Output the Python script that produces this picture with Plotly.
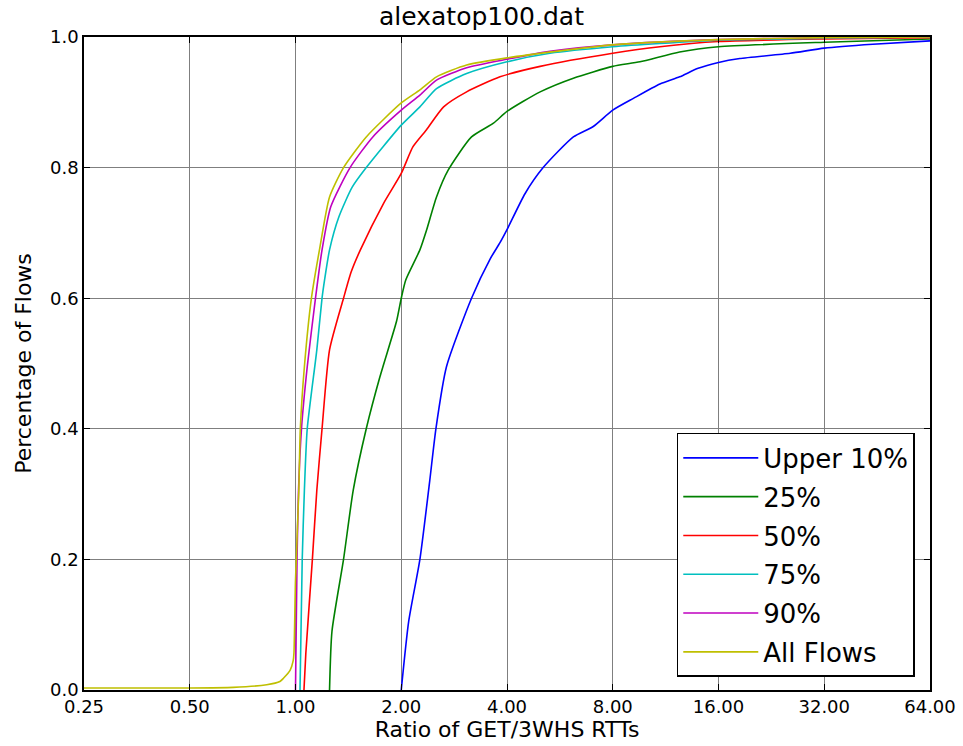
import plotly.graph_objects as go

x_ticks = [0.25, 0.5, 1, 2, 4, 8, 16, 32, 64]
x_tick_labels = ["0.25", "0.50", "1.00", "2.00", "4.00", "8.00", "16.00", "32.00", "64.00"]
y_ticks = [0.0, 0.2, 0.4, 0.6, 0.8, 1.0]

upper10_x = [2.0, 2.1, 2.26, 2.41, 2.51, 2.69, 3.17, 3.58, 3.82, 4.0, 4.5, 5.07, 6.18, 7.04, 8.0, 9.16, 10.9, 12.4, 14.0, 16.0, 18.4, 25.6, 32.0, 44.0, 64.0]
upper10_y = [0.0, 0.105, 0.2, 0.32, 0.4, 0.495, 0.6, 0.66, 0.685, 0.705, 0.76, 0.8, 0.847, 0.863, 0.888, 0.906, 0.928, 0.939, 0.952, 0.961, 0.967, 0.975, 0.983, 0.989, 0.994]

p25_x = [1.25, 1.27, 1.37, 1.46, 1.59, 1.74, 1.94, 2.0, 2.06, 2.26, 2.36, 2.52, 2.72, 3.17, 3.66, 4.0, 4.97, 6.18, 8.0, 9.56, 12.4, 16.0, 32.0, 64.0]
p25_y = [0.0, 0.09, 0.2, 0.306, 0.4, 0.48, 0.565, 0.6, 0.628, 0.674, 0.704, 0.755, 0.796, 0.847, 0.868, 0.886, 0.916, 0.937, 0.955, 0.962, 0.977, 0.985, 0.992, 0.997]

p50_x = [1.057, 1.07, 1.117, 1.15, 1.19, 1.25, 1.37, 1.44, 1.53, 1.78, 2.0, 2.16, 2.36, 2.64, 3.07, 3.82, 4.97, 8.0, 10.9, 16.0, 32.0, 64.0]
p50_y = [0.0, 0.056, 0.2, 0.306, 0.4, 0.521, 0.6, 0.64, 0.674, 0.745, 0.791, 0.832, 0.858, 0.893, 0.916, 0.939, 0.955, 0.975, 0.985, 0.993, 0.997, 0.999]

p75_x = [1.03, 1.045, 1.06, 1.08, 1.15, 1.19, 1.21, 1.25, 1.33, 1.45, 1.59, 2.0, 2.26, 2.52, 3.07, 4.0, 5.3, 8.0, 10.9, 16.0, 32.0, 64.0]
p75_y = [0.0, 0.2, 0.306, 0.4, 0.521, 0.6, 0.628, 0.674, 0.725, 0.77, 0.8, 0.865, 0.893, 0.921, 0.944, 0.962, 0.975, 0.985, 0.99, 0.995, 0.998, 1.0]

p90_x = [1.0, 1.01, 1.02, 1.04, 1.08, 1.14, 1.19, 1.26, 1.43, 1.66, 2.0, 2.26, 2.52, 3.07, 4.0, 5.3, 8.0, 16.0, 32.0, 64.0]
p90_y = [0.0, 0.2, 0.306, 0.4, 0.495, 0.6, 0.674, 0.74, 0.8, 0.847, 0.888, 0.911, 0.934, 0.953, 0.966, 0.978, 0.988, 0.996, 0.999, 1.0]

all_x = [0.25, 0.5, 0.665, 0.828, 0.903, 0.924, 0.965, 0.985, 0.99, 1.0, 1.022, 1.032, 1.06, 1.11, 1.17, 1.25, 1.37, 1.59, 2.0, 2.26, 2.52, 3.07, 4.0, 8.0, 16.0, 32.0, 64.0]
all_y = [0.003, 0.003, 0.004, 0.008, 0.013, 0.018, 0.03, 0.045, 0.057, 0.168, 0.306, 0.4, 0.495, 0.6, 0.674, 0.755, 0.8, 0.847, 0.899, 0.919, 0.939, 0.957, 0.968, 0.988, 0.996, 0.999, 1.0]

series = [
    ("Upper 10%", upper10_x, upper10_y, "#0000ff"),
    ("25%", p25_x, p25_y, "#008000"),
    ("50%", p50_x, p50_y, "#ff0000"),
    ("75%", p75_x, p75_y, "#00bfbf"),
    ("90%", p90_x, p90_y, "#bf00bf"),
    ("All Flows", all_x, all_y, "#bfbf00"),
]

FONT = "DejaVu Sans, Liberation Sans, sans-serif"

fig = go.Figure()
for name, xs, ys, col in series:
    fig.add_trace(go.Scatter(x=xs, y=ys, mode="lines", name=name, legendgroup=name,
                             line=dict(color=col, width=1.6, shape="spline", smoothing=0.6)))

fig.update_layout(
    width=963, height=746,
    margin=dict(l=84, r=33, t=37, b=56),
    paper_bgcolor="white", plot_bgcolor="white",
    font=dict(family=FONT, color="black"),
    title=dict(text="alexatop100.dat", x=0.5, xanchor="center", y=0.978, yanchor="middle",
               font=dict(size=25, family=FONT)),
    showlegend=True,
    legend=dict(x=0.982, y=0.02, xanchor="right", yanchor="bottom",
                bgcolor="white", bordercolor="black", borderwidth=1.5,
                font=dict(size=26, family=FONT), itemwidth=75, tracegroupgap=2),
)

fig.update_xaxes(type="log", range=[-0.60206, 1.80618], automargin=False,
                 tickvals=x_ticks, ticktext=x_tick_labels,
                 showgrid=True, gridcolor="#7f7f7f", gridwidth=1,
                 showline=True, linecolor="black", linewidth=1.5, mirror="allticks",
                 ticks="inside", ticklen=6, tickcolor="black",
                 tickfont=dict(size=18), zeroline=False,
                 title=dict(text="Ratio of GET/3WHS RTTs", font=dict(size=22), standoff=5))
fig.update_yaxes(range=[0, 1], tickvals=y_ticks, tickformat=".1f", automargin=False,
                 showgrid=True, gridcolor="#7f7f7f", gridwidth=1,
                 showline=True, linecolor="black", linewidth=1.5, mirror="allticks",
                 ticks="inside", ticklen=6, tickcolor="black",
                 tickfont=dict(size=18), zeroline=False,
                 title=dict(text="Percentage of Flows", font=dict(size=22), standoff=12))

fig.write_html("out.html")
